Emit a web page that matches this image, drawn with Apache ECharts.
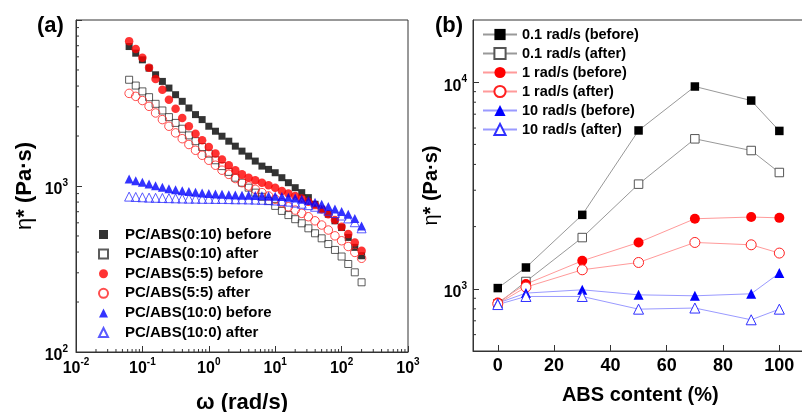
<!DOCTYPE html>
<html><head><meta charset="utf-8">
<script src="https://cdn.jsdelivr.net/npm/echarts@6/dist/echarts.min.js"></script>
<style>html,body{margin:0;padding:0;background:#fff}#c{width:802px;height:412px}</style>
</head><body><div id="c"></div>
<script>
// ---------- Panel (a): complex viscosity vs angular frequency ----------
const omega = [0.0631,0.0794,0.1,0.126,0.158,0.2,0.251,0.316,0.398,0.501,0.631,0.794,1,1.26,1.58,2,2.51,3.16,3.98,5.01,6.31,7.94,10,12.6,15.8,20,25.1,31.6,39.8,50.1,63.1,79.4,100,126,158,200];
const pc010Before = [6920,6310,5754,5129,4677,4266,3890,3548,3236,2951,2692,2512,2291,2138,1995,1862,1738,1622,1514,1413,1318,1259,1202,1122,1047,977,912,851,776,724,676,617,562,490,427,380];
const pc010After  = [4365,4027,3715,3428,3126,2851,2600,2399,2213,2018,1862,1718,1567,1429,1318,1216,1122,1047,977,912,861,813,759,708,668,631,596,556,519,484,447,412,376,339,302,263];
const pc55Before  = [7460,6683,5929,5164,4416,3802,3311,2917,2570,2291,2065,1884,1718,1567,1445,1334,1245,1175,1122,1084,1047,1012,977,933,902,871,841,804,767,724,676,624,569,513,457,407];
const pc55After   = [3614,3467,3273,3020,2754,2512,2291,2089,1928,1778,1641,1531,1429,1334,1245,1175,1109,1047,1000,955,912,871,832,794,750,716,684,653,617,582,543,501,468,432,398,367];
const pc100Before = [1102,1076,1052,1028,1005,982,964,948,935,925,916,908,902,895,891,887,883,881,879,877,875,871,867,863,857,847,832,817,798,776,753,728,703,676,638,575];
const pc100After  = [863,859,855,851,849,847,845,843,841,839,839,837,837,836,836,834,832,832,830,828,826,822,818,813,805,794,782,767,750,731,710,687,664,638,605,556];
const namesA = ['PC/ABS(0:10) before','PC/ABS(0:10) after','PC/ABS(5:5) before','PC/ABS(5:5) after','PC/ABS(10:0) before','PC/ABS(10:0) after'];

// ---------- Panel (b): complex viscosity vs ABS content ----------
const absContent = [0,10,30,50,70,90,100];
const w01Before = [1008,1268,2280,5840,9530,8150,5810];
const w01After  = [846,1085,1770,3210,5320,4670,3655];
const w1Before  = [859,1054,1366,1676,2183,2225,2205];
const w1After   = [846,1019,1236,1341,1676,1633,1489];
const w10Before = [852,953,989,935,925,946,1191];
const w10After  = [839,918,918,797,807,708,797];
const namesB = ['0.1 rad/s (before)','0.1 rad/s (after)','1 rad/s (before)','1 rad/s (after)','10 rad/s (before)','10 rad/s (after)'];
const absTicks = [0,20,40,60,80,100];

// minor tick values for the log axes
const minorA_x = [], minorA_y = [];
for (let k=-2;k<=2;k++) for (let m=2;m<=9;m++) minorA_x.push(+(m*Math.pow(10,k)).toPrecision(3));
for (let k=2;k<=3;k++) for (let m=2;m<=9;m++) minorA_y.push(m*Math.pow(10,k));
const minorB_y = [600,700,800,900,2000,3000,4000,5000,6000,7000,8000,9000];

const F = "'Liberation Sans', Arial, sans-serif";
const AX = '#333';
const powRich = {
  b:{fontSize:16,lineHeight:24,verticalAlign:'middle',fontWeight:'bold',fontFamily:F,color:'#000'},
  s:{fontSize:10,lineHeight:10,verticalAlign:'top',fontWeight:'bold',fontFamily:F,color:'#000'}
};
function powLabel(v){ const e=Math.round(Math.log10(v)); return '{b|10}{s|'+e+'}'; }

const pair = (xs, ys) => xs.map((x,i)=>[x, ys[i]]);

// short inward tick marks drawn through the axes' own scales
function minorTicks(xIdx, yIdx, data, dx, dy){
  return {type:'custom', xAxisIndex:xIdx, yAxisIndex:yIdx, silent:true, clip:false, z:3,
    data:data,
    renderItem:(params, api)=>{
      const p = api.coord([api.value(0), api.value(1)]);
      return {type:'line', shape:{x1:p[0],y1:p[1],x2:p[0]+dx,y2:p[1]+dy}, style:{stroke:AX,lineWidth:1}};
    }};
}

const chart = echarts.init(document.getElementById('c'), null, {renderer:'canvas'});
chart.setOption({
  animation:false,
  backgroundColor:'#fff',
  grid:[
    {left:76, top:20, width:332, height:332, containLabel:false, outerBoundsMode:'none',
     show:true, borderColor:AX, borderWidth:1, backgroundColor:'transparent'},
    {left:473, top:20, width:334.5, height:331, containLabel:false, outerBoundsMode:'none',
     show:true, borderColor:AX, borderWidth:1, backgroundColor:'transparent'}
  ],
  xAxis:[
    {type:'log', gridIndex:0, position:'bottom', logBase:10, min:0.01, max:1000,
     axisLine:{show:true,onZero:false,lineStyle:{color:AX,width:1}},
     axisTick:{show:true,inside:true,length:6,lineStyle:{color:AX}},
     axisLabel:{margin:5,formatter:powLabel,rich:powRich},
     splitLine:{show:false},
     name:'ω (rad/s)', nameLocation:'middle', nameGap:40, nameMoveOverlap:false,
     nameTextStyle:{fontSize:22,fontWeight:'bold',fontFamily:F,color:'#000'}},
    {type:'value', gridIndex:1, position:'bottom', min:-8.8, max:110,
     axisLine:{show:true,onZero:false,lineStyle:{color:AX,width:1}},
     axisTick:{show:true,inside:true,length:6,lineStyle:{color:AX},customValues:absTicks},
     axisLabel:{margin:6,fontSize:18,fontWeight:'bold',fontFamily:F,color:'#000',customValues:absTicks},
     splitLine:{show:false},
     name:'ABS content (%)', nameLocation:'middle', nameGap:34, nameMoveOverlap:false,
     nameTextStyle:{fontSize:20,fontWeight:'bold',fontFamily:F,color:'#000'}}
  ],
  yAxis:[
    {type:'log', gridIndex:0, position:'left', logBase:10, min:100, max:10000,
     axisLine:{show:true,onZero:false,lineStyle:{color:AX,width:1}},
     axisTick:{show:true,inside:true,length:6,lineStyle:{color:AX}},
     axisLabel:{margin:8,padding:[8,0,0,0],formatter:v=> v>=10000 ? '' : powLabel(v),rich:powRich},
     splitLine:{show:false},
     name:'{g|η}{b|* (Pa·s)}', nameLocation:'middle', nameGap:40, nameMoveOverlap:false,
     nameTextStyle:{rich:{g:{fontSize:22,fontFamily:F,color:'#000'},b:{fontSize:22,fontWeight:'bold',fontFamily:F,color:'#000'}}}},
    {type:'log', gridIndex:1, position:'left', logBase:10, min:500, max:20000,
     axisLine:{show:true,onZero:false,lineStyle:{color:AX,width:1}},
     axisTick:{show:true,inside:true,length:6,lineStyle:{color:AX},customValues:[1000,10000]},
     axisLabel:{margin:6,padding:[8,0,0,0],formatter:powLabel,rich:powRich,customValues:[1000,10000]},
     splitLine:{show:false},
     name:'{g|η}{b|* (Pa·s)}', nameLocation:'middle', nameGap:32, nameMoveOverlap:false,
     nameTextStyle:{rich:{g:{fontSize:20,fontFamily:F,color:'#000'},b:{fontSize:20,fontWeight:'bold',fontFamily:F,color:'#000'}}}}
  ],
  legend:[
    {data:namesA, orient:'vertical', left:98, top:227, padding:0, itemWidth:9, itemHeight:9, itemGap:4.6,
     selectedMode:false,
     textStyle:{fontSize:15,fontWeight:'bold',fontFamily:F,color:'#000',lineHeight:14,padding:[0,0,0,12]}},
    {data:namesB, orient:'vertical', left:482, top:27, padding:0, itemWidth:34, itemHeight:14, itemGap:4,
     selectedMode:false,
     textStyle:{fontSize:14.5,fontWeight:'bold',fontFamily:F,color:'#000',lineHeight:14}}
  ],
  graphic:[
    {type:'text', left:37, top:15, style:{text:'(a)', font:"bold 22px 'Liberation Sans', Arial, sans-serif", fill:'#000'}},
    {type:'text', left:435, top:15, style:{text:'(b)', font:"bold 22px 'Liberation Sans', Arial, sans-serif", fill:'#000'}}
  ],
  series:[
    {name:namesA[0], type:'scatter', xAxisIndex:0, yAxisIndex:0, data:pair(omega,pc010Before), symbol:'rect', symbolSize:7, itemStyle:{color:'#000'}},
    {name:namesA[1], type:'scatter', xAxisIndex:0, yAxisIndex:0, data:pair(omega,pc010After), symbol:'rect', symbolSize:7, itemStyle:{color:'rgba(255,255,255,0)',borderColor:'#333',borderWidth:1}},
    {name:namesA[2], type:'scatter', xAxisIndex:0, yAxisIndex:0, data:pair(omega,pc55Before), symbol:'circle', symbolSize:8.5, itemStyle:{color:'#ff0000'}},
    {name:namesA[3], type:'scatter', xAxisIndex:0, yAxisIndex:0, data:pair(omega,pc55After), symbol:'circle', symbolSize:8.5, itemStyle:{color:'rgba(255,255,255,0)',borderColor:'#ff2020',borderWidth:1}},
    {name:namesA[4], type:'scatter', xAxisIndex:0, yAxisIndex:0, data:pair(omega,pc100Before), symbol:'triangle', symbolSize:9, itemStyle:{color:'#0000ff'}},
    {name:namesA[5], type:'scatter', xAxisIndex:0, yAxisIndex:0, data:pair(omega,pc100After), symbol:'triangle', symbolSize:9, itemStyle:{color:'rgba(255,255,255,0)',borderColor:'#3030ff',borderWidth:1}},

    {name:namesB[0], type:'line', xAxisIndex:1, yAxisIndex:1, data:pair(absContent,w01Before), symbol:'rect', symbolSize:8.5, showSymbol:true, lineStyle:{color:'#999',width:1}, itemStyle:{color:'#000'}},
    {name:namesB[1], type:'line', xAxisIndex:1, yAxisIndex:1, data:pair(absContent,w01After), symbol:'rect', symbolSize:8.5, showSymbol:true, lineStyle:{color:'#999',width:1}, itemStyle:{color:'#fff',borderColor:'#555',borderWidth:1}},
    {name:namesB[2], type:'line', xAxisIndex:1, yAxisIndex:1, data:pair(absContent,w1Before), symbol:'circle', symbolSize:10, showSymbol:true, lineStyle:{color:'#ff9a9a',width:1}, itemStyle:{color:'#ff0000'}},
    {name:namesB[3], type:'line', xAxisIndex:1, yAxisIndex:1, data:pair(absContent,w1After), symbol:'circle', symbolSize:10, showSymbol:true, lineStyle:{color:'#ff9a9a',width:1}, itemStyle:{color:'#fff',borderColor:'#ff2020',borderWidth:1}},
    {name:namesB[4], type:'line', xAxisIndex:1, yAxisIndex:1, data:pair(absContent,w10Before), symbol:'triangle', symbolSize:10, showSymbol:true, lineStyle:{color:'#9a9aff',width:1}, itemStyle:{color:'#0000ff'}},
    {name:namesB[5], type:'line', xAxisIndex:1, yAxisIndex:1, data:pair(absContent,w10After), symbol:'triangle', symbolSize:10, showSymbol:true, lineStyle:{color:'#9a9aff',width:1}, itemStyle:{color:'#fff',borderColor:'#3030ff',borderWidth:1}},

    minorTicks(0, 0, minorA_x.map(v=>[v, 100]), 0, -3),
    minorTicks(0, 0, minorA_y.map(v=>[0.01, v]), 3, 0),
    minorTicks(1, 1, minorB_y.map(v=>[-8.8, v]), 3, 0)
  ]
});
</script></body></html>
